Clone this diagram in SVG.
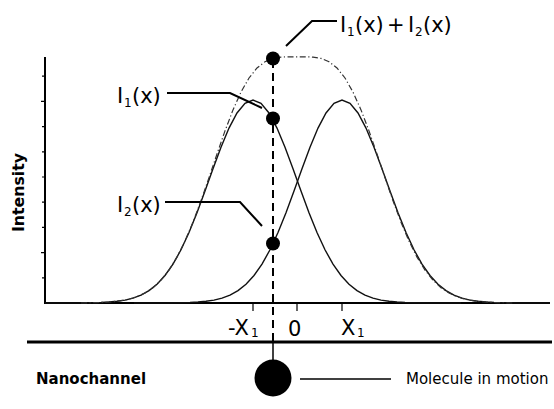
<svg xmlns="http://www.w3.org/2000/svg" xmlns:xlink="http://www.w3.org/1999/xlink" width="554" height="409" viewBox="0 0 554 409">
<style>
text{font-family:"DejaVu Sans","Liberation Sans",sans-serif;fill:#000}
.lbl{font-size:21px}
.sub{font-size:12px}
.ax{font-size:21px}
.curve{fill:none;stroke:#111;stroke-width:1.4}
.sum{fill:none;stroke:#333;stroke-width:1.2;stroke-dasharray:6 2.5 1.2 2.5}
.lead{fill:none;stroke:#000;stroke-width:2}
.axis{fill:none;stroke:#000;stroke-width:2}
.tick{fill:none;stroke:#000;stroke-width:1.2}
</style>
<defs>
<path id="gauss" d="M-208,303 L-176,303 L-160,302.7 L-152,302.5 L-144,302 L-136,301.3 L-128,300.1 L-120,298.1 L-112,295.1 L-104,290.6 L-96,284.2 L-88,275.5 L-80,264.1 L-72,249.8 L-64,232.5 L-56,212.7 L-48,191 L-40,168.7 L-32,147.2 L-24,128.1 L-16,113 L-8,103.3 L0,100 L8,103.3 L16,113 L24,128.1 L32,147.2 L40,168.7 L48,191 L56,212.7 L64,232.5 L72,249.8 L80,264.1 L88,275.5 L96,284.2 L104,290.6 L112,295.1 L120,298.1 L128,300.1 L136,301.3 L144,302 L152,302.5 L160,302.7 L176,303 L208,303"/>
</defs>
<g id="axes">
<path class="axis" d="M45,57 V303 H550"/>
<path class="tick" d="M42,76.2 H45 M41,101.4 H45 M42,126.6 H45 M42,151.8 H45 M42,177 H45 M42,202.2 H45 M42,227.4 H45 M41,252.6 H45 M42,277.8 H45"/>
<path class="tick" d="M253,303 V311 M297,303 V311 M342,303 V311"/>
<text transform="rotate(-90 24 192.5)" x="24" y="192.5" text-anchor="middle" font-weight="bold" font-size="16" textLength="79" lengthAdjust="spacingAndGlyphs">Intensity</text>
<text class="ax" x="228" y="335">-X</text><text class="sub" x="251" y="337">1</text>
<text class="ax" x="288" y="336">0</text>
<text class="ax" x="341" y="335">X</text><text class="sub" x="357" y="337">1</text>
</g>
<g id="curves">
<use xlink:href="#gauss" href="#gauss" class="curve" transform="translate(253,0)"/>
<use xlink:href="#gauss" href="#gauss" class="curve" transform="translate(342,0)"/>
<path class="sum" transform="translate(297,0)" d="M-216,303 L-200,302.6 L-192,302.3 L-184,301.7 L-176,300.7 L-168,299.2 L-160,296.7 L-152,293 L-144,287.7 L-136,280.2 L-128,270.1 L-120,257.1 L-112,241.1 L-104,222.2 L-96,200.7 L-88,177.6 L-80,154 L-72,130.9 L-64,109.9 L-56,92.1 L-48,78 L-40,68 L-32,61.7 L-24,58.4 L-16,57.1 L-8,56.8 L0,56.8 L8,56.8 L16,57.1 L24,58.4 L32,61.7 L40,68 L48,78 L56,92.1 L64,109.9 L72,130.9 L80,154 L88,177.6 L96,200.7 L104,222.2 L112,241.1 L120,257.1 L128,270.1 L136,280.2 L144,287.7 L152,293 L160,296.7 L168,299.2 L176,300.7 L184,301.7 L192,302.3 L200,302.6 L216,303"/>
</g>
<g id="connectors">
<path d="M273,60 V342" fill="none" stroke="#000" stroke-width="2" stroke-dasharray="8 5"/>
<path d="M273,342 V360" fill="none" stroke="#000" stroke-width="1.5"/>
<path class="lead" d="M167,93 H230 L262,108"/>
<path class="lead" d="M165,202 H240 L262,226"/>
<path class="lead" d="M286,46 L312,21 H337"/>
<path d="M300,379 H391" fill="none" stroke="#000" stroke-width="1.5"/>
</g>
<g id="points">
<circle cx="273" cy="58.5" r="7"/>
<circle cx="273" cy="118.5" r="7"/>
<circle cx="273" cy="243.5" r="7"/>
</g>
<g id="label-I1">
<text class="lbl" x="117" y="103">I</text><text class="sub" x="124" y="107">1</text><text class="lbl" x="132" y="103">(x)</text>
</g>
<g id="label-I2">
<text class="lbl" x="117" y="212">I</text><text class="sub" x="124" y="216">2</text><text class="lbl" x="132" y="212">(x)</text>
</g>
<g id="label-sum">
<text class="lbl" x="340" y="32">I</text><text class="sub" x="347" y="36">1</text><text class="lbl" x="355" y="32">(x)</text>
<text class="lbl" x="387" y="32">+</text>
<text class="lbl" x="408" y="32">I</text><text class="sub" x="415" y="36">2</text><text class="lbl" x="423" y="32">(x)</text>
</g>
<g id="channel">
<path d="M27,342 H552" fill="none" stroke="#000" stroke-width="3"/>
<text x="36" y="384" font-weight="bold" font-size="15">Nanochannel</text>
</g>
<g id="molecule">
<circle cx="273" cy="378" r="18.5"/>
<text x="406" y="384" font-size="15">Molecule in motion</text>
</g>
</svg>
